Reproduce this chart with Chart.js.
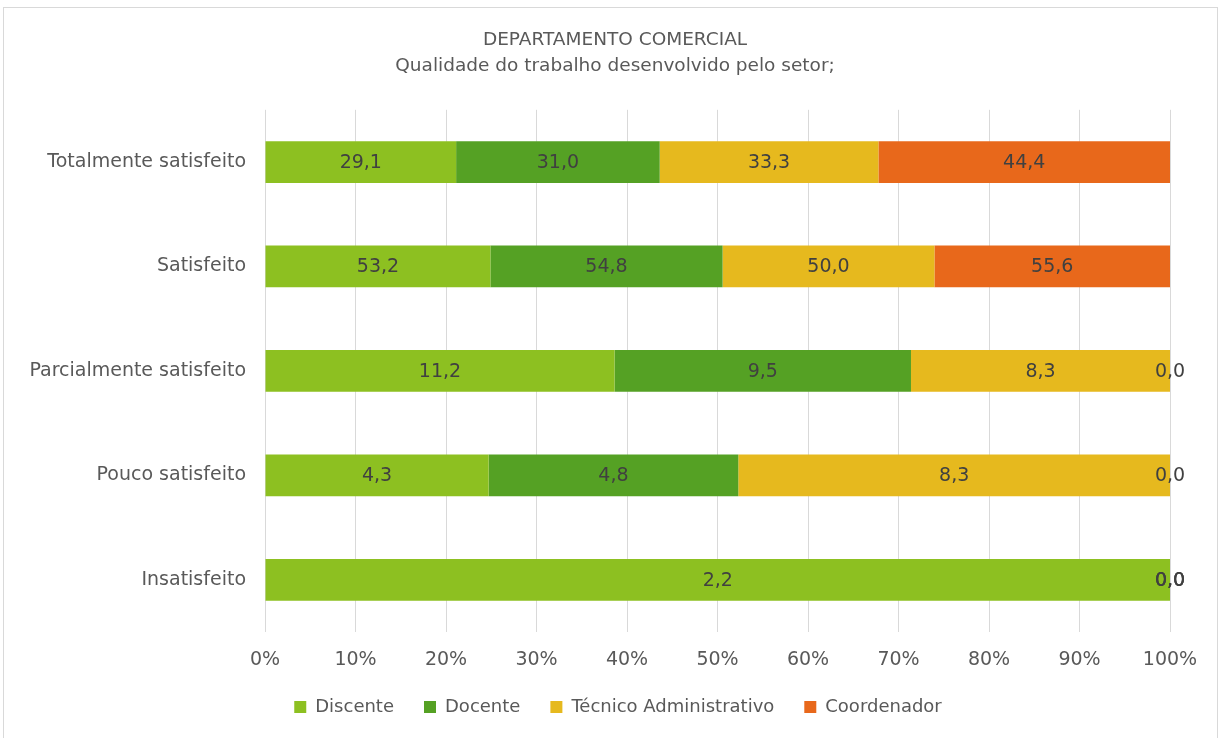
<!DOCTYPE html>
<html>
<head>
<meta charset="utf-8">
<script src="https://cdn.jsdelivr.net/npm/chart.js@4"></script>
<style>
  html, body { margin: 0; padding: 0; background: #fff; }
  #wrap { position: relative; width: 1223px; height: 738px; }
</style>
</head>
<body>
<div id="wrap"><canvas id="chart" width="1223" height="738"></canvas></div>
<script>
const categories = ['Totalmente satisfeito', 'Satisfeito', 'Parcialmente satisfeito', 'Pouco satisfeito', 'Insatisfeito'];
const discente = [29.1, 53.2, 11.2, 4.3, 2.2];
const docente = [31.0, 54.8, 9.5, 4.8, 0.0];
const tecnico = [33.3, 50.0, 8.3, 8.3, 0.0];
const coordenador = [44.4, 55.6, 0.0, 0.0, 0.0];
const xTicks = [0, 10, 20, 30, 40, 50, 60, 70, 80, 90, 100];

const seriesNames = ['Discente', 'Docente', 'Técnico Administrativo', 'Coordenador'];
const seriesValues = [discente, docente, tecnico, coordenador];
const colors = ['#8DC021', '#55A124', '#E6B91E', '#E8681B'];

const FONT = "'DejaVu Sans', sans-serif";

// 100% stacked: each row scaled to its own total
const totals = categories.map((c, i) => seriesValues.reduce((s, arr) => s + arr[i], 0));

const datasets = seriesNames.map((name, k) => ({
    label: name,
    data: seriesValues[k].map((v, i) => v / totals[i] * 100),
    raw: seriesValues[k],
    backgroundColor: colors[k],
    borderWidth: 0,
    barPercentage: 0.8,
    categoryPercentage: 0.5
}));

const frame = {
    id: 'frame',
    beforeDraw(chart) {
        const ctx = chart.ctx;
        ctx.save();
        ctx.strokeStyle = '#d9d9d9';
        ctx.lineWidth = 1;
        ctx.strokeRect(3.5, 7.5, 1214, 740);
        ctx.restore();
    }
};

// title and legend sit a bit right of the canvas centre in the original
const shiftBlocks = {
    id: 'shiftBlocks',
    afterLayout(chart) {
        chart.titleBlock.left += 25;
        chart.titleBlock.right += 25;
        chart.legend.left += 28;
        chart.legend.right += 28;
    }
};

const valueLabels = {
    id: 'valueLabels',
    afterDatasetsDraw(chart) {
        const ctx = chart.ctx;
        ctx.save();
        ctx.font = '19px ' + FONT;
        ctx.fillStyle = '#404040';
        ctx.textAlign = 'center';
        ctx.textBaseline = 'middle';
        chart.data.datasets.forEach((ds, k) => {
            chart.getDatasetMeta(k).data.forEach((bar, i) => {
                const cx = (bar.x + bar.base) / 2;
                ctx.fillText(ds.raw[i].toFixed(1).replace('.', ','), cx, bar.y + 1);
            });
        });
        ctx.restore();
    }
};

new Chart(document.getElementById('chart'), {
    type: 'bar',
    data: { labels: categories, datasets: datasets },
    plugins: [frame, shiftBlocks, valueLabels],
    options: {
        indexAxis: 'y',
        responsive: false,
        animation: false,
        layout: { padding: { top: 21, left: 10, right: 53, bottom: 12 } },
        scales: {
            x: {
                stacked: true,
                min: 0,
                max: 100,
                afterBuildTicks(scale) {
                    scale.ticks = xTicks.map(v => ({ value: v }));
                },
                afterFit(scale) { scale.height = 36; },
                grid: { color: '#d9d9d9', lineWidth: 1, drawTicks: false },
                border: { display: false },
                ticks: {
                    padding: 17,
                    color: '#595959',
                    font: { family: FONT, size: 19 },
                    callback: v => v + '%'
                }
            },
            y: {
                stacked: true,
                afterFit(scale) { scale.width = 255; },
                grid: { display: false },
                border: { display: false },
                ticks: {
                    padding: 11,
                    color: '#595959',
                    font: { family: FONT, size: 19 }
                }
            }
        },
        plugins: {
            title: {
                display: true,
                text: ['DEPARTAMENTO COMERCIAL', 'Qualidade do trabalho desenvolvido pelo setor;'],
                color: '#595959',
                font: { family: FONT, size: 18.5, weight: 'normal', lineHeight: 1.4 },
                padding: { top: 6, bottom: 31 }
            },
            legend: {
                position: 'bottom',
                labels: {
                    boxWidth: 12,
                    boxHeight: 12,
                    color: '#595959',
                    padding: 30,
                    font: { family: FONT, size: 18 }
                }
            },
            tooltip: { enabled: false }
        }
    }
});
</script>
</body>
</html>
